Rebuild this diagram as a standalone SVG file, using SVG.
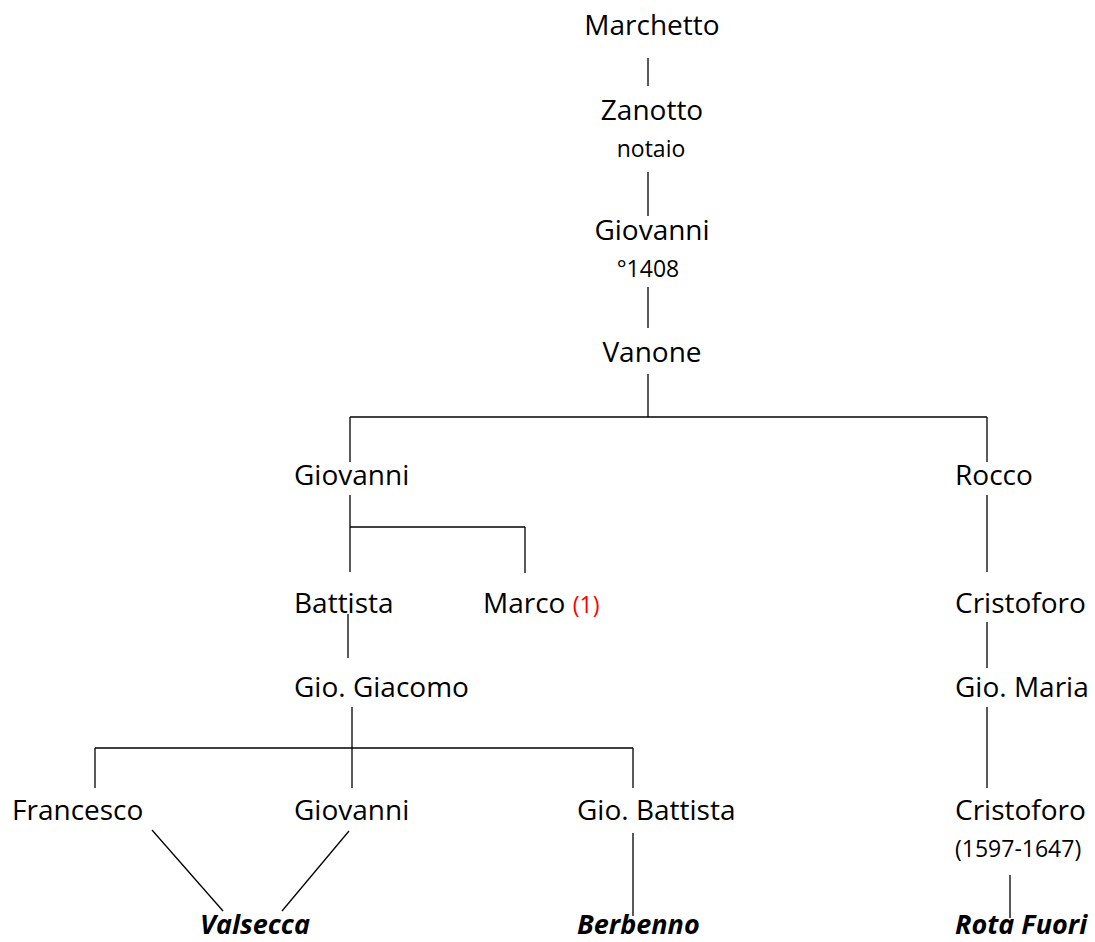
<svg xmlns="http://www.w3.org/2000/svg" width="1095" height="942" viewBox="0 0 1095 942">
<style>
text{font-family:"Open Sans","Liberation Sans",sans-serif;fill:#000}
.n{font-size:28px}
.s{font-size:23px}
.p{font-size:27px;font-weight:bold;font-style:italic}
.r{fill:#ff0000;font-size:23px}
#connectors line{stroke:#000;stroke-width:1.3}
</style>
<rect width="1095" height="942" fill="#fff"/>
<g id="connectors">
<line x1="648" y1="58" x2="648" y2="86"/>
<line x1="648" y1="172" x2="648" y2="216"/>
<line x1="648" y1="287" x2="648" y2="328"/>
<line x1="648" y1="374" x2="648" y2="417"/>
<line x1="350" y1="417" x2="987" y2="417"/>
<line x1="350" y1="417" x2="350" y2="462"/>
<line x1="987" y1="417" x2="987" y2="462"/>
<line x1="350" y1="495" x2="350" y2="572"/>
<line x1="350" y1="527" x2="525" y2="527"/>
<line x1="525" y1="527" x2="525" y2="573"/>
<line x1="348" y1="614" x2="348" y2="658"/>
<line x1="352" y1="707" x2="352" y2="788"/>
<line x1="95" y1="748" x2="633" y2="748"/>
<line x1="95" y1="748" x2="95" y2="788"/>
<line x1="633" y1="748" x2="633" y2="788"/>
<line x1="152" y1="830" x2="223" y2="911"/>
<line x1="349" y1="831" x2="282" y2="911"/>
<line x1="633" y1="833" x2="633" y2="916"/>
<line x1="987" y1="495" x2="987" y2="572"/>
<line x1="987" y1="622" x2="987" y2="668"/>
<line x1="987" y1="707" x2="987" y2="788"/>
<line x1="1010" y1="875" x2="1010" y2="918"/>
</g>
<g id="marchetto"><text class="n" x="652" y="35" text-anchor="middle">Marchetto</text></g>
<g id="zanotto"><text class="n" x="652" y="120" text-anchor="middle">Zanotto</text><text class="s" x="651" y="157" text-anchor="middle">notaio</text></g>
<g id="giovanni1"><text class="n" x="652" y="240" text-anchor="middle">Giovanni</text><text class="s" x="648" y="277" text-anchor="middle">°1408</text></g>
<g id="vanone"><text class="n" x="652" y="362" text-anchor="middle">Vanone</text></g>
<g id="giovanni2"><text class="n" x="294" y="485">Giovanni</text></g>
<g id="rocco"><text class="n" x="955" y="485">Rocco</text></g>
<g id="battista"><text class="n" x="294" y="613">Battista</text></g>
<g id="marco"><text class="n" x="483" y="613">Marco <tspan class="r">(1)</tspan></text></g>
<g id="giogiacomo"><text class="n" x="294" y="697">Gio. Giacomo</text></g>
<g id="francesco"><text class="n" x="12" y="820">Francesco</text></g>
<g id="giovanni3"><text class="n" x="294" y="820">Giovanni</text></g>
<g id="giobattista"><text class="n" x="577" y="820">Gio. Battista</text></g>
<g id="cristoforo1"><text class="n" x="955" y="613">Cristoforo</text></g>
<g id="giomaria"><text class="n" x="955" y="697">Gio. Maria</text></g>
<g id="cristoforo2"><text class="n" x="955" y="820">Cristoforo</text><text class="s" x="955" y="857">(1597-1647)</text></g>
<g id="valsecca"><text class="p" x="200" y="934">Valsecca</text></g>
<g id="berbenno"><text class="p" x="577" y="934">Berbenno</text></g>
<g id="rotafuori"><text class="p" x="955" y="934">Rota Fuori</text></g>
</svg>
